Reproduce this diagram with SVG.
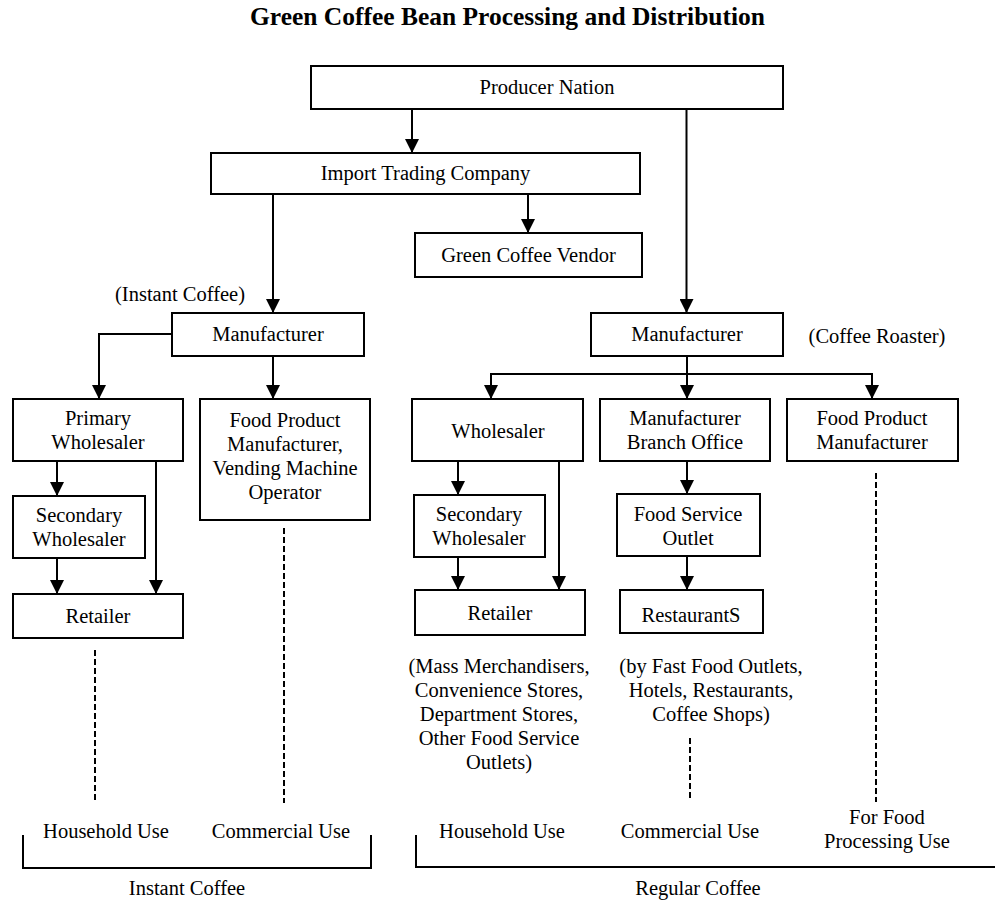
<svg xmlns="http://www.w3.org/2000/svg" width="995" height="905" viewBox="0 0 995 905">
<style>
  .box { fill: #ffffff; stroke: #000000; stroke-width: 2; }
  .t { font-family: "Liberation Serif", "Times New Roman", serif; font-size: 20.5px; fill: #000000; text-anchor: middle; }
  .title { font-family: "Liberation Serif", "Times New Roman", serif; font-size: 25px; font-weight: bold; fill: #000000; text-anchor: middle; }
  .ln { fill: none; stroke: #000000; stroke-width: 2; }
  .arr { fill: none; stroke: #000000; stroke-width: 2; marker-end: url(#ah); }
  .dash { fill: none; stroke: #000000; stroke-width: 2; stroke-dasharray: 6 3; }
</style>
<defs>
  <marker id="ah" viewBox="0 0 14 14" refX="14" refY="7" markerWidth="14" markerHeight="14" markerUnits="userSpaceOnUse" orient="auto">
    <path d="M0,0 L14,7 L0,14 z" fill="#000000"/>
  </marker>
</defs>
<rect width="995" height="905" fill="#ffffff"/>
<text class="title" x="507.5" y="25" textLength="515" lengthAdjust="spacingAndGlyphs">Green Coffee Bean Processing and Distribution</text>

<g id="connectors">
  <path class="arr" d="M412,109 V153"/>
  <path class="arr" d="M686.5,109 V313"/>
  <path class="arr" d="M528,194 V233"/>
  <path class="arr" d="M273,194 V313"/>
  <path class="arr" d="M172,334 H99 V399"/>
  <path class="arr" d="M273,356 V399"/>
  <path class="arr" d="M57,461 V496"/>
  <path class="arr" d="M156,461 V594"/>
  <path class="arr" d="M57,558 V594"/>
  <path class="ln" d="M491,374 H872"/>
  <path class="arr" d="M687,356 V399"/>
  <path class="arr" d="M491,373 V399"/>
  <path class="arr" d="M872,373 V399"/>
  <path class="arr" d="M458,461 V495"/>
  <path class="arr" d="M559,461 V590"/>
  <path class="arr" d="M458,557 V590"/>
  <path class="arr" d="M687,461 V494"/>
  <path class="arr" d="M687,556 V590"/>
  <path class="dash" d="M95,650 V803"/>
  <path class="dash" d="M284,528 V803"/>
  <path class="dash" d="M690,738 V800"/>
  <path class="dash" d="M876,473 V802"/>
  <path class="ln" d="M23,835 V868 H371 V835"/>
  <path class="ln" d="M416,835 V867 H995"/>
</g>

<g id="producer-nation">
  <rect class="box" x="311" y="66" width="472" height="43"/>
  <text class="t" x="547" y="94">Producer Nation</text>
</g>
<g id="import-trading">
  <rect class="box" x="211" y="153" width="429" height="41"/>
  <text class="t" x="425.5" y="180">Import Trading Company</text>
</g>
<g id="green-coffee-vendor">
  <rect class="box" x="415" y="233" width="227" height="44"/>
  <text class="t" x="528.5" y="262">Green Coffee Vendor</text>
</g>
<g id="instant-label">
  <text class="t" x="180" y="301">(Instant Coffee)</text>
</g>
<g id="manufacturer-instant">
  <rect class="box" x="172" y="313" width="192" height="43"/>
  <text class="t" x="268" y="341">Manufacturer</text>
</g>
<g id="manufacturer-roaster">
  <rect class="box" x="591" y="313" width="192" height="43"/>
  <text class="t" x="687" y="341">Manufacturer</text>
</g>
<g id="roaster-label">
  <text class="t" x="877" y="343">(Coffee Roaster)</text>
</g>
<g id="primary-wholesaler">
  <rect class="box" x="13" y="399" width="170" height="62"/>
  <text class="t" x="98" y="425">Primary</text>
  <text class="t" x="98" y="449">Wholesaler</text>
</g>
<g id="food-product-vending">
  <rect class="box" x="200" y="399" width="170" height="121"/>
  <text class="t" x="285" y="427">Food Product</text>
  <text class="t" x="285" y="451">Manufacturer,</text>
  <text class="t" x="285" y="475">Vending Machine</text>
  <text class="t" x="285" y="499">Operator</text>
</g>
<g id="secondary-wholesaler-instant">
  <rect class="box" x="13" y="496" width="132" height="62"/>
  <text class="t" x="79" y="522">Secondary</text>
  <text class="t" x="79" y="546">Wholesaler</text>
</g>
<g id="retailer-instant">
  <rect class="box" x="13" y="594" width="170" height="44"/>
  <text class="t" x="98" y="623">Retailer</text>
</g>
<g id="wholesaler-regular">
  <rect class="box" x="412" y="399" width="171" height="62"/>
  <text class="t" x="498" y="438">Wholesaler</text>
</g>
<g id="branch-office">
  <rect class="box" x="600" y="399" width="170" height="62"/>
  <text class="t" x="685" y="425">Manufacturer</text>
  <text class="t" x="685" y="449">Branch Office</text>
</g>
<g id="food-product-regular">
  <rect class="box" x="787" y="399" width="171" height="62"/>
  <text class="t" x="872" y="425">Food Product</text>
  <text class="t" x="872" y="449">Manufacturer</text>
</g>
<g id="secondary-wholesaler-regular">
  <rect class="box" x="414" y="495" width="131" height="62"/>
  <text class="t" x="479" y="521">Secondary</text>
  <text class="t" x="479" y="545">Wholesaler</text>
</g>
<g id="food-service-outlet">
  <rect class="box" x="617" y="494" width="143" height="62"/>
  <text class="t" x="688" y="521">Food Service</text>
  <text class="t" x="688" y="545">Outlet</text>
</g>
<g id="retailer-regular">
  <rect class="box" x="415" y="590" width="170" height="45"/>
  <text class="t" x="500" y="620">Retailer</text>
</g>
<g id="restaurants">
  <rect class="box" x="620" y="590" width="143" height="43"/>
  <text class="t" x="691" y="622">RestaurantS</text>
</g>
<g id="retail-note">
  <text class="t" x="499" y="673">(Mass Merchandisers,</text>
  <text class="t" x="499" y="697">Convenience Stores,</text>
  <text class="t" x="499" y="721">Department Stores,</text>
  <text class="t" x="499" y="745">Other Food Service</text>
  <text class="t" x="499" y="769">Outlets)</text>
</g>
<g id="restaurant-note">
  <text class="t" x="711" y="673">(by Fast Food Outlets,</text>
  <text class="t" x="711" y="697">Hotels, Restaurants,</text>
  <text class="t" x="711" y="721">Coffee Shops)</text>
</g>
<g id="use-labels">
  <text class="t" x="106" y="838">Household Use</text>
  <text class="t" x="281" y="838">Commercial Use</text>
  <text class="t" x="502" y="838">Household Use</text>
  <text class="t" x="690" y="838">Commercial Use</text>
  <text class="t" x="887" y="824">For Food</text>
  <text class="t" x="887" y="848">Processing Use</text>
</g>
<g id="group-labels">
  <text class="t" x="187" y="895">Instant Coffee</text>
  <text class="t" x="698" y="895">Regular Coffee</text>
</g>
</svg>
